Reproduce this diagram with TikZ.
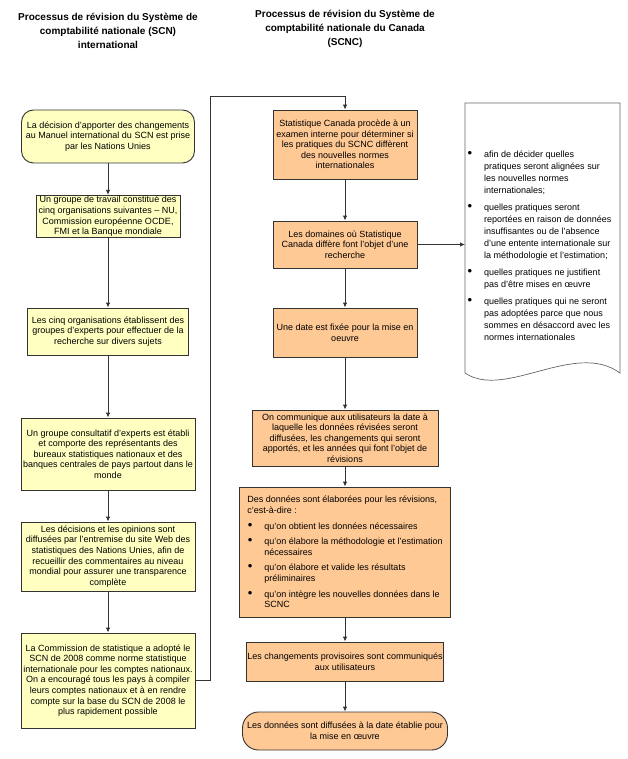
\documentclass[tikz,border=0pt]{standalone}
\usepackage{fontspec}
\setmainfont{Liberation Sans}
\usetikzlibrary{arrows.meta}
\definecolor{yel}{HTML}{FFFFC2}
\definecolor{ora}{HTML}{FFC995}
\definecolor{ln}{HTML}{333333}
\definecolor{docln}{HTML}{666666}
\newcommand{\bul}{\makebox[17pt][l]{\hspace*{0.5pt}{\fontsize{13}{10}\selectfont\textbullet}}}
\newcommand{\cont}{\hspace*{17pt}}
\tikzset{
  box/.style={draw=ln, line width=0.9pt, align=center, inner sep=1pt,
    font=\fontsize{9}{10.6}\selectfont},
  ybox/.style={box, fill=yel},
  obox/.style={box, fill=ora},
  conn/.style={draw=ln, line width=0.9pt, -{Latex[length=5pt,width=4.5pt]}},
  hdr/.style={align=center, font=\bfseries\fontsize{10}{14}\selectfont},
  doctext/.style={align=left, inner sep=0pt, font=\fontsize{9}{12}\selectfont}
}
\begin{document}
\begin{tikzpicture}[x=1pt,y=-1pt]
\fill[white] (0,0) rectangle (627,759);
\useasboundingbox (0,0) rectangle (627,759);

% headers
\node[hdr] (h1) at (108,31) {Processus de révision du Système de\\ comptabilité nationale (SCN)\\ international};
\node[hdr] (h2) at (345,29) {Processus de révision du Système de\\ comptabilité nationale du Canada\\ (SCNC)};

% left column
\node[ybox, rounded corners=12pt, minimum width=173pt, minimum height=53pt] (b1) at (108,136.5)
  {La décision d'apporter des changements\\ au Manuel international du SCN est prise\\ par les Nations Unies};
\node[ybox, minimum width=144pt, minimum height=38pt] (b2) at (108,216.5)
  {Un groupe de travail constitué des\\ cinq organisations suivantes – NU,\\ Commission européenne OCDE,\\ FMI et la Banque mondiale};
\node[ybox, minimum width=161pt, minimum height=47pt] (b3) at (108,331.5)
  {Les cinq organisations établissent des\\ groupes d'experts pour effectuer de la\\ recherche sur divers sujets};
\node[ybox, minimum width=174pt, minimum height=72pt] (b4) at (108,454)
  {Un groupe consultatif d'experts est établi\\ et comporte des représentants des\\ bureaux statistiques nationaux et des\\ banques centrales de pays partout dans le\\ monde};
\node[ybox, minimum width=174pt, minimum height=69pt] (b5) at (108,556.5)
  {Les décisions et les opinions sont\\ diffusées par l'entremise du site Web des\\ statistiques des Nations Unies, afin de\\ recueillir des commentaires au niveau\\ mondial pour assurer une transparence\\ complète};
\node[ybox, minimum width=174pt, minimum height=95pt] (b6) at (108,680.5)
  {La Commission de statistique a adopté le\\ SCN de 2008 comme norme statistique\\ internationale pour les comptes nationaux.\\ On a encouragé tous les pays à compiler\\ leurs comptes nationaux et à en rendre\\ compte sur la base du SCN de 2008 le\\ plus rapidement possible};

% right column
\node[obox, minimum width=144pt, minimum height=69pt] (r1) at (345,144.5)
  {Statistique Canada procède à un\\ examen interne pour déterminer si\\ les pratiques du SCNC diffèrent\\ des nouvelles normes\\ internationales};
\node[obox, minimum width=144pt, minimum height=47pt] (r2) at (345,244.5)
  {Les domaines où Statistique\\ Canada diffère font l'objet d'une\\ recherche};
\node[obox, minimum width=144pt, minimum height=49pt] (r3) at (345,332.5)
  {Une date est fixée pour la mise en\\ oeuvre};
\node[obox, minimum width=186pt, minimum height=56pt] (r4) at (345,438)
  {On communique aux utilisateurs la date à\\ laquelle les données révisées seront\\ diffusées, les changements qui seront\\ apportés, et les années qui font l'objet de\\ révisions};
\node[obox, align=left, minimum width=211pt, minimum height=130pt] (r5) at (345,552)
  {Des données sont élaborées pour les révisions,\\ c'est-à-dire :\\[5pt]
   \bul qu'on obtient les données nécessaires\\[5pt]
   \bul qu'on élabore la méthodologie et l'estimation\\ \cont nécessaires\\[5pt]
   \bul qu'on élabore et valide les résultats\\ \cont préliminaires\\[5pt]
   \bul qu'on intègre les nouvelles données dans le\\ \cont SCNC};
\node[obox, minimum width=187pt, minimum height=39pt] (r6) at (345,661.5)
  {Les changements provisoires sont communiqués\\ aux utilisateurs};
\node[obox, rounded corners=16pt, minimum width=205pt, minimum height=38pt] (r7) at (345,731)
  {Les données sont diffusées à la date établie pour\\ la mise en œuvre};

% document shape
\draw[docln, line width=0.7pt, fill=white] (465,103) -- (620,103) -- (620,373)
  .. controls (575,340) and (505,400) .. (465,373) -- cycle;
\coordinate (docw) at (465,244.5);
\node[doctext, anchor=north west] (dt) at (467,151)
  {\bul afin de décider quelles\\ \cont pratiques seront alignées sur\\ \cont les nouvelles normes\\ \cont internationales;\\[5pt]
   \bul quelles pratiques seront\\ \cont reportées en raison de données\\ \cont insuffisantes ou de l'absence\\ \cont d'une entente internationale sur\\ \cont la méthodologie et l'estimation;\\[5pt]
   \bul quelles pratiques ne justifient\\ \cont pas d'être mises en œuvre\\[5pt]
   \bul quelles pratiques qui ne seront\\ \cont pas adoptées parce que nous\\ \cont sommes en désaccord avec les\\ \cont normes internationales};

% connectors left
\draw[conn] (b1.south) -- (b2.north);
\draw[conn] (b2.south) -- (b3.north);
\draw[conn] (b3.south) -- (b4.north);
\draw[conn] (b4.south) -- (b5.north);
\draw[conn] (b5.south) -- (b6.north);
% link to right column
\draw[conn] (b6.east) -| (210,96) -| (r1.north);
% connectors right
\draw[conn] (r1.south) -- (r2.north);
\draw[conn] (r2.south) -- (r3.north);
\draw[conn] (r3.south) -- (r4.north);
\draw[conn] (r4.south) -- (r5.north);
\draw[conn] (r5.south) -- (r6.north);
\draw[conn] (r6.south) -- (r7.north);
\draw[conn] (r2.east) -- (docw);
\end{tikzpicture}
\end{document}
